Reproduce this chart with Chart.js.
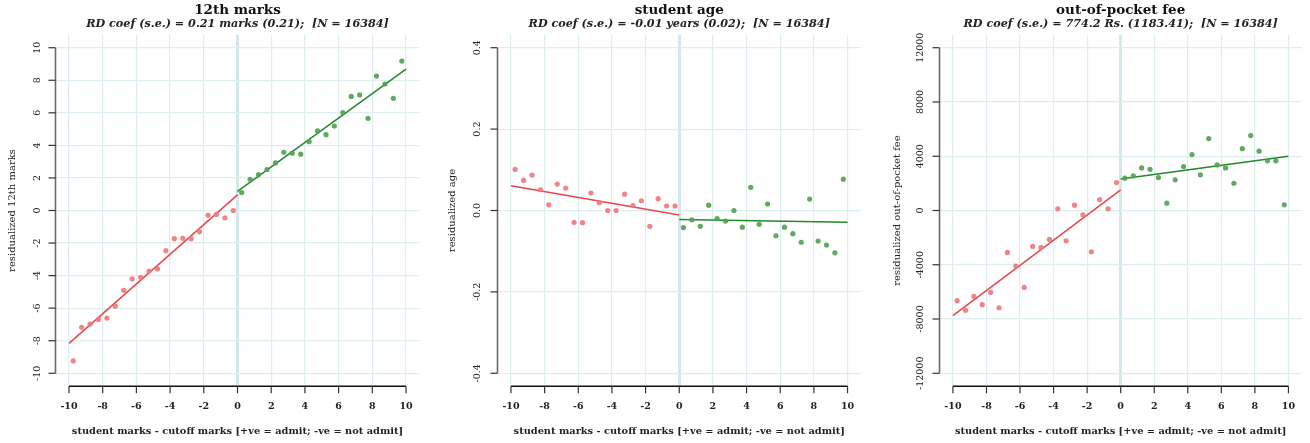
<!DOCTYPE html>
<html><head><meta charset="utf-8">
<script src="https://cdn.jsdelivr.net/npm/chart.js@4.4.0/dist/chart.umd.min.js"></script>
<style>
html,body{margin:0;padding:0;background:#fff;}
body{width:1310px;height:443px;overflow:hidden;position:relative;}
canvas{position:absolute;top:0;}
</style></head>
<body>
<canvas id="c1" width="437" height="443" style="left:0px"></canvas>
<canvas id="c2" width="437" height="443" style="left:437px"></canvas>
<canvas id="c3" width="436" height="443" style="left:874px"></canvas>
<script>
// ---------- data ----------
const binsLeft  = [-9.75,-9.25,-8.75,-8.25,-7.75,-7.25,-6.75,-6.25,-5.75,-5.25,-4.75,-4.25,-3.75,-3.25,-2.75,-2.25,-1.75,-1.25,-0.75,-0.25];
const binsRight = [0.25,0.75,1.25,1.75,2.25,2.75,3.25,3.75,4.25,4.75,5.25,5.75,6.25,6.75,7.25,7.75,8.25,8.75,9.25,9.75];
const fitXLeft  = [-10, 0];
const fitXRight = [0, 10];
const xTicks = [-10,-8,-6,-4,-2,0,2,4,6,8,10];

const titles    = ['12th marks','student age','out-of-pocket fee'];
const subtitles = ['RD coef (s.e.) = 0.21 marks (0.21);  [N = 16384]',
                   'RD coef (s.e.) = -0.01 years (0.02);  [N = 16384]',
                   'RD coef (s.e.) = 774.2 Rs. (1183.41);  [N = 16384]'];
const yTitles   = ['residualized 12th marks','residualized age','residualized out-of-pocket fee'];
const xTitle    = 'student marks - cutoff marks [+ve = admit; -ve = not admit]';

// 12th marks
const marksLeft  = [-9.24,-7.18,-6.98,-6.69,-6.61,-5.88,-4.90,-4.20,-4.10,-3.73,-3.59,-2.47,-1.73,-1.71,-1.73,-1.31,-0.29,-0.24,-0.45,0.00];
const marksRight = [1.10,1.92,2.21,2.52,2.92,3.58,3.52,3.46,4.23,4.89,4.66,5.19,6.01,7.01,7.10,5.66,8.26,7.77,6.89,9.18];
const marksFitLeft  = [-8.16, 0.96];
const marksFitRight = [1.17, 8.69];
const marksTicks = [-10,-8,-6,-4,-2,0,2,4,6,8,10];
const marksTickLabels = ['-10','-8','-6','-4','-2','0','2','4','6','8','10'];

// student age
const ageLeft  = [0.101,0.074,0.087,0.051,0.014,0.065,0.055,-0.029,-0.030,0.043,0.019,0.000,0.000,0.040,0.012,0.024,-0.039,0.029,0.011,0.011];
const ageRight = [-0.042,-0.023,-0.039,0.013,-0.020,-0.026,0.000,-0.041,0.057,-0.034,0.016,-0.062,-0.041,-0.057,-0.078,0.028,-0.075,-0.085,-0.104,0.077];
const ageFitLeft  = [0.061, -0.011];
const ageFitRight = [-0.022, -0.029];
const ageTicks = [-0.4,-0.2,0,0.2,0.4];
const ageTickLabels = ['-0.4','-0.2','0.0','0.2','0.4'];

// out-of-pocket fee
const feeLeft  = [-6650,-7360,-6330,-6940,-6040,-7170,-3090,-4100,-5670,-2650,-2720,-2130,120,-2230,390,-320,-3040,810,120,2060];
const feeRight = [2380,2550,3140,3040,2430,540,2260,3240,4120,2630,5300,3360,3140,2010,4560,5520,4370,3660,3660,420];
const feeFitLeft  = [-7750, 1520];
const feeFitRight = [2330, 4000];
const feeTicks = [-12000,-8000,-4000,0,4000,8000,12000];
const feeTickLabels = ['-12000','-8000','-4000','0','4000','8000','12000'];

// ---------- styling ----------
const SERIF = '"DejaVu Serif", serif';
const RED_PT = 'rgba(238,120,124,0.9)';
const GRN_PT = 'rgba(80,160,80,0.9)';
const RED_LN = '#e8474c';
const GRN_LN = '#23882a';
const GRID = '#deeeee';
const ZERO = '#d4e7ea';

function pts(xs, ys){ return xs.map((x,i)=>({x:x, y:ys[i]})); }

const rPlugin = {
  id: 'rstyle',
  afterDraw(chart){
    const o = chart.options.plugins.rstyle;
    const ctx = chart.ctx, ca = chart.chartArea;
    const xs = chart.scales.x, ys = chart.scales.y;
    ctx.save();
    // y axis line + ticks
    const y0 = ys.getPixelForValue(o.yTicks[0]);
    const y1 = ys.getPixelForValue(o.yTicks[o.yTicks.length-1]);
    ctx.strokeStyle = '#6a6a6a'; ctx.lineWidth = 1.6;
    ctx.beginPath(); ctx.moveTo(ca.left, y0); ctx.lineTo(ca.left, y1); ctx.stroke();
    ctx.strokeStyle = '#333'; ctx.lineWidth = 1.2;
    o.yTicks.forEach(v=>{ const p = ys.getPixelForValue(v); ctx.beginPath(); ctx.moveTo(ca.left-7, p); ctx.lineTo(ca.left, p); ctx.stroke(); });
    // y tick labels (rotated)
    ctx.fillStyle = '#222'; ctx.font = '9.5px ' + SERIF; ctx.textAlign = 'center'; ctx.textBaseline = 'middle';
    o.yTicks.forEach((v,i)=>{ const p = ys.getPixelForValue(v); ctx.save(); ctx.translate(ca.left - o.yLabOff, p); ctx.rotate(-Math.PI/2); ctx.fillText(o.yTickLabels[i], 0, 0); ctx.restore(); });
    // x axis line + ticks
    const x0 = xs.getPixelForValue(xTicks[0]), x1 = xs.getPixelForValue(xTicks[xTicks.length-1]);
    ctx.strokeStyle = '#111'; ctx.lineWidth = 1.5;
    ctx.beginPath(); ctx.moveTo(x0, ca.bottom); ctx.lineTo(x1, ca.bottom); ctx.stroke();
    ctx.strokeStyle = '#333'; ctx.lineWidth = 1.2;
    xTicks.forEach(v=>{ const p = xs.getPixelForValue(v); ctx.beginPath(); ctx.moveTo(p, ca.bottom); ctx.lineTo(p, ca.bottom+7); ctx.stroke(); });
    // titles
    const cx = (ca.left + ca.right)/2;
    ctx.fillStyle = '#111'; ctx.textAlign = 'center'; ctx.textBaseline = 'middle';
    ctx.font = 'bold 13.5px ' + SERIF; ctx.fillText(o.title, cx, 10.5);
    ctx.fillStyle = '#222';
    ctx.font = 'italic bold 11.2px ' + SERIF; ctx.fillText(o.subtitle, cx, 24);
    ctx.restore();
  }
};

function makePanel(id, p){
  new Chart(document.getElementById(id), {
    type: 'scatter',
    data: { datasets: [
      { type:'line', data: pts(fitXLeft, p.fitL), borderColor: RED_LN, borderWidth: 1.5, pointRadius: 0, fill:false, order: 2 },
      { type:'line', data: pts(fitXRight, p.fitR), borderColor: GRN_LN, borderWidth: 1.5, pointRadius: 0, fill:false, order: 2 },
      { data: pts(binsLeft, p.left), backgroundColor: RED_PT, borderWidth: 0, pointRadius: 2.6, order: 1 },
      { data: pts(binsRight, p.right), backgroundColor: GRN_PT, borderWidth: 0, pointRadius: 2.6, order: 1 }
    ]},
    options: {
      responsive: false, animation: false, devicePixelRatio: 1,
      layout: { padding: { top: 34.7, bottom: 0, left: 0, right: p.rightPad } },
      plugins: {
        legend: { display: false }, tooltip: { enabled: false },
        rstyle: { title: p.title, subtitle: p.subtitle, yTicks: p.yTicks, yTickLabels: p.yTickLabels, yLabOff: p.yLabOff }
      },
      scales: {
        x: {
          type: 'linear', min: -10.8, max: 10.8,
          afterBuildTicks: s => { s.ticks = xTicks.map(v=>({value:v})); },
          afterFit: s => { s.height = 56.7; },
          border: { display: false },
          grid: { drawTicks: false,
                  color: c => (c.tick && c.tick.value === 0) ? ZERO : GRID,
                  lineWidth: c => (c.tick && c.tick.value === 0) ? 3 : 1.2 },
          ticks: { padding: 14.7, color: '#222', font: { family: SERIF, size: 9.5, weight: 'bold' }, maxRotation: 0,
                   callback: v => String(v) },
          title: { display: true, text: xTitle, color: '#222', font: { family: SERIF, size: 9.8, weight: 'bold' }, padding: { top: 0, bottom: 6.1 } }
        },
        y: {
          type: 'linear', min: p.yMin, max: p.yMax,
          afterBuildTicks: s => { s.ticks = p.yTicks.map(v=>({value:v})); },
          afterFit: s => { s.width = p.yW; },
          border: { display: false },
          grid: { drawTicks: false, color: GRID, lineWidth: 1.2 },
          ticks: { display: false },
          title: { display: true, text: p.yTitle, color: '#222', font: { family: SERIF, size: 10, weight: 'normal' }, padding: { top: p.yTitlePad, bottom: 0 } }
        }
      }
    },
    plugins: [rPlugin]
  });
}

makePanel('c1', { left: marksLeft, right: marksRight, fitL: marksFitLeft, fitR: marksFitRight,
  yTicks: marksTicks, yTickLabels: marksTickLabels, yMin: -10.8, yMax: 10.8,
  title: titles[0], subtitle: subtitles[0], yTitle: yTitles[0], yW: 55.5, rightPad: 17.5, yTitlePad: 6, yLabOff: 17.5 });
makePanel('c2', { left: ageLeft, right: ageRight, fitL: ageFitLeft, fitR: ageFitRight,
  yTicks: ageTicks, yTickLabels: ageTickLabels, yMin: -0.432, yMax: 0.432,
  title: titles[1], subtitle: subtitles[1], yTitle: yTitles[1], yW: 60.5, rightPad: 13, yTitlePad: 9.5, yLabOff: 19.5 });
makePanel('c3', { left: feeLeft, right: feeRight, fitL: feeFitLeft, fitR: feeFitRight,
  yTicks: feeTicks, yTickLabels: feeTickLabels, yMin: -12960, yMax: 12960,
  title: titles[2], subtitle: subtitles[2], yTitle: yTitles[2], yW: 65.5, rightPad: 7, yTitlePad: 17, yLabOff: 19 });
</script>
</body></html>
